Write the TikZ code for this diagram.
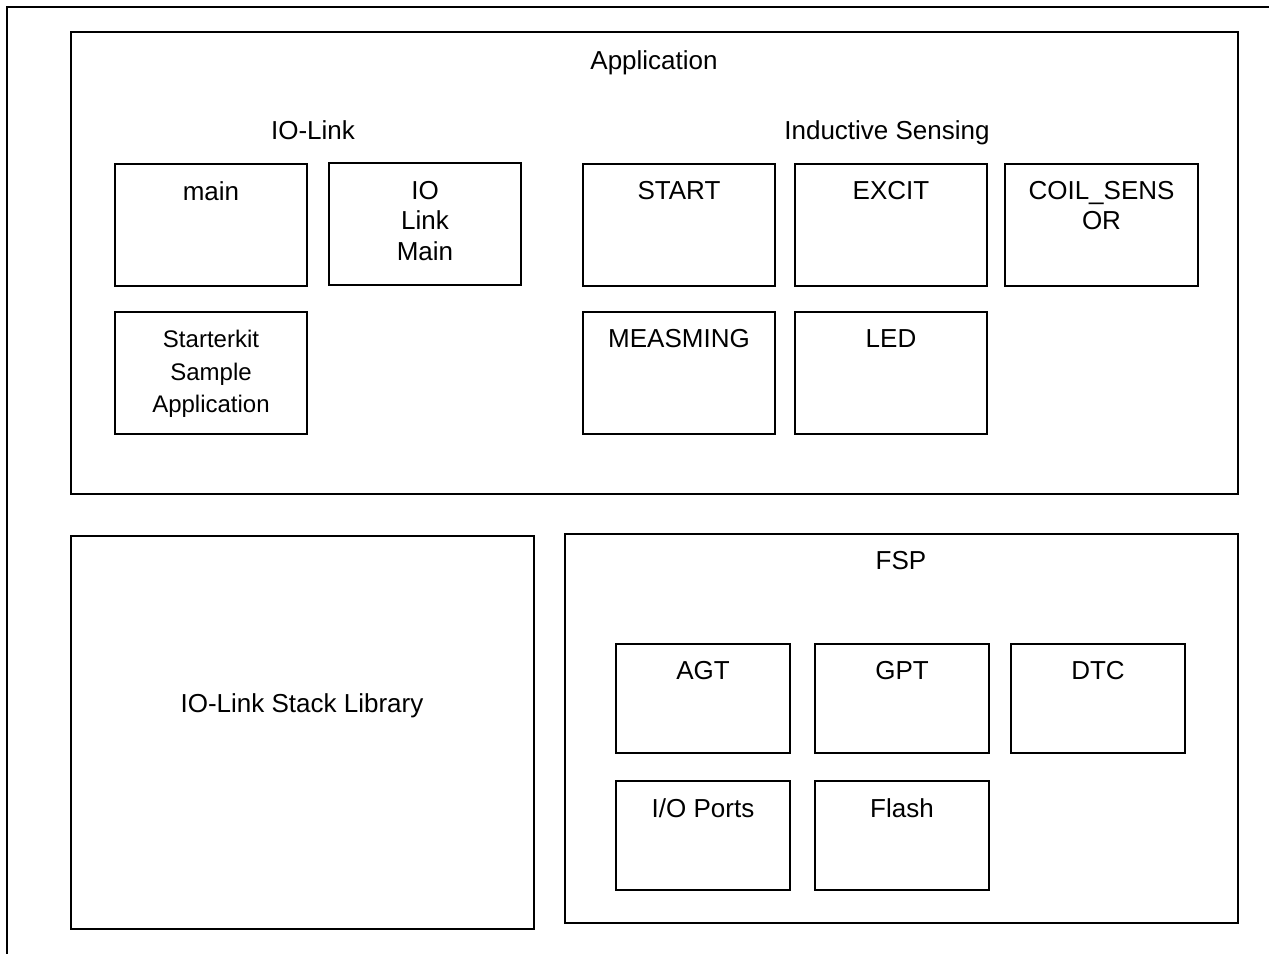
\documentclass[tikz,border=0pt]{standalone}
\usepackage{fontspec}
\setmainfont{Liberation Sans}
\usetikzlibrary{calc}
\begin{document}
\begin{tikzpicture}[x=0.75pt,y=-0.75pt,
  frame/.style={draw, line width=1pt, inner sep=0pt, outer sep=0pt, anchor=north west},
  sz/.style 2 args={minimum width=#1*0.75pt, minimum height=#2*0.75pt},
  lbl/.style={font=\fontsize{19.5pt}{22.9pt}\selectfont, align=center, inner sep=0pt, anchor=north},
  smalllbl/.style={font=\fontsize{18pt}{24.4pt}\selectfont, align=center, inner sep=0pt, anchor=north}]
\useasboundingbox (0,0) rectangle (1269,953);
\node[frame, line width=1.8pt, sz={1330}{1010}] (outer) at (7,7) {};
% Application
\node[frame, sz={1167}{462}] (app) at (71,32) {};
\node[lbl] (appl) at (654,50) {Application};
\node[lbl] (iol) at (313,120) {IO-Link};
\node[lbl] (ind) at (887,120) {Inductive Sensing};
\node[frame, sz={192}{122}] (main) at (115,164) {};
\node[frame, sz={192}{122}] (iolm) at (329,163) {};
\node[frame, sz={192}{122}] (start) at (583,164) {};
\node[frame, sz={192}{122}] (excit) at (795,164) {};
\node[frame, sz={193}{122}] (coil) at (1005,164) {};
\node[frame, sz={192}{122}] (starter) at (115,312) {};
\node[frame, sz={192}{122}] (meas) at (583,312) {};
\node[frame, sz={192}{122}] (led) at (795,312) {};
\node[lbl] (mainl) at ($(main.north)+(0,17)$) {main};
\node[lbl] (iolml) at ($(iolm.north)+(0,18)$) {IO\\Link\\Main};
\node[lbl] (startl) at ($(start.north)+(0,17)$) {START};
\node[lbl] (excitl) at ($(excit.north)+(0,17)$) {EXCIT};
\node[lbl] (coill) at ($(coil.north)+(0,17)$) {COIL\_SENS\\OR};
\node[smalllbl] (starterl) at ($(starter.north)+(0,18)$) {Starterkit\\Sample\\Application};
\node[lbl] (measl) at ($(meas.north)+(0,17)$) {MEASMING};
\node[lbl] (ledl) at ($(led.north)+(0,17)$) {LED};
% Stack library
\node[frame, sz={463}{393}] (stack) at (71,536) {};
\node[lbl] (stackl) at (302,693) {IO-Link Stack Library};
% FSP
\node[frame, sz={673}{389}] (fsp) at (565,534) {};
\node[lbl] (fspl) at (901,551) {FSP};
\node[frame, sz={174}{109}] (agt) at (616,644) {};
\node[frame, sz={174}{109}] (gpt) at (815,644) {};
\node[frame, sz={174}{109}] (dtc) at (1011,644) {};
\node[frame, sz={174}{109}] (iop) at (616,781) {};
\node[frame, sz={174}{109}] (flash) at (815,781) {};
\node[lbl] (agtl) at ($(agt.north)+(0,17)$) {AGT};
\node[lbl] (gptl) at ($(gpt.north)+(0,17)$) {GPT};
\node[lbl] (dtcl) at ($(dtc.north)+(0,17)$) {DTC};
\node[lbl] (iopl) at ($(iop.north)+(0,17)$) {I/O Ports};
\node[lbl] (flashl) at ($(flash.north)+(0,17)$) {Flash};
\end{tikzpicture}
\end{document}
